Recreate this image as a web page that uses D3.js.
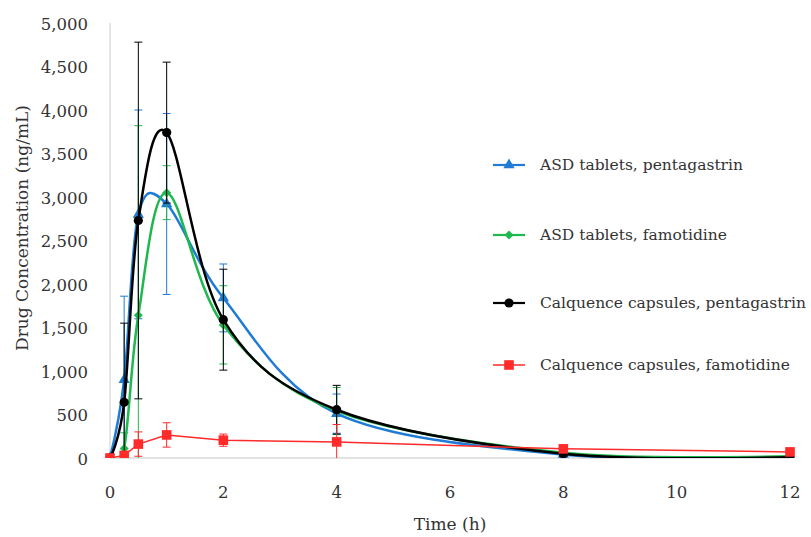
<!DOCTYPE html>
<html>
<head>
<meta charset="utf-8">
<script src="https://cdn.jsdelivr.net/npm/d3@7"></script>
<style>
  body { margin: 0; background: #fff; }
  svg { display: block; }
  .tick-label { font-family: "DejaVu Serif", serif; font-size: 16.5px; fill: #333; }
  .axis-title { font-family: "DejaVu Serif", serif; font-size: 17px; fill: #333; }
  .legend-label { font-family: "DejaVu Serif", serif; font-size: 15.5px; fill: #333; }
</style>
</head>
<body>
<div id="chart"></div>
<script>
// sampling times (h)
const times = [0, 0.25, 0.5, 1, 2, 4, 8, 12];

// mean concentrations (ng/mL)
const asdPenta = [0, 900, 2800, 2920, 1840, 510, 40, 5];
const asdFamo = [0, 110, 1640, 3050, 1530, 540, 60, 20];
const calqPenta = [0, 640, 2730, 3740, 1590, 555, 50, 10];
const calqFamo = [0, 30, 160, 265, 205, 185, 105, 70];

// standard deviations (error bars)
const asdPentaSd = [0, 960, 1200, 1040, 390, 225, 30, 5];
const asdFamoSd = [0, 180, 2180, 310, 450, 270, 30, 10];
const calqPentaSd = [0, 910, 2050, 810, 580, 280, 30, 10];
const calqFamoSd = [0, 30, 140, 140, 70, 200, 30, 20];

const seriesNames = [
  "ASD tablets, pentagastrin",
  "ASD tablets, famotidine",
  "Calquence capsules, pentagastrin",
  "Calquence capsules, famotidine"
];

const xTicks = [0, 2, 4, 6, 8, 10, 12];
const yTicks = [0, 500, 1000, 1500, 2000, 2500, 3000, 3500, 4000, 4500, 5000];

const config = {
  width: 811,
  height: 537,
  margin: { top: 23, right: 21, bottom: 79, left: 110 },
  capHalf: 4,
  legendX: 493,
  legendY: [165, 235, 303, 365]
};

const series = [
  { name: seriesNames[0], values: asdPenta, sd: asdPentaSd, color: "#1f7bd6", marker: "triangle", width: 2.5, smooth: true },
  { name: seriesNames[1], values: asdFamo, sd: asdFamoSd, color: "#1fb84f", marker: "diamond", width: 2.5, smooth: true },
  { name: seriesNames[2], values: calqPenta, sd: calqPentaSd, color: "#000000", marker: "circle", width: 2.5, smooth: true },
  { name: seriesNames[3], values: calqFamo, sd: calqFamoSd, color: "#ff2a2a", marker: "square", width: 1.5, smooth: false }
];

const innerW = config.width - config.margin.left - config.margin.right;
const innerH = config.height - config.margin.top - config.margin.bottom;

const svg = d3.select("#chart").append("svg")
  .attr("width", config.width)
  .attr("height", config.height);

const xScale = d3.scaleLinear().domain([0, 12]).range([0, innerW]);
const yScale = d3.scaleLinear().domain([0, 5000]).range([innerH, 0]);

const g = svg.append("g")
  .attr("transform", `translate(${config.margin.left},${config.margin.top})`);

svg.append("defs").append("clipPath").attr("id", "plot-clip")
  .append("rect").attr("x", -10).attr("y", -5).attr("width", innerW + 20).attr("height", innerH + 5);

// axes lines
g.append("path").attr("d", `M0,0V${innerH}`).attr("stroke", "#d9d9d9").attr("stroke-width", 1.3).attr("fill", "none");
g.append("path").attr("d", `M0,${innerH}H${innerW}`).attr("stroke", "#d9d9d9").attr("stroke-width", 1.3).attr("fill", "none");

// tick labels
g.selectAll("text.ytick").data(yTicks).join("text")
  .attr("class", "tick-label ytick")
  .attr("x", -22)
  .attr("y", d => yScale(d) + 1)
  .attr("dy", "0.35em")
  .attr("text-anchor", "end")
  .text(d => d3.format(",")(d));

g.selectAll("text.xtick").data(xTicks).join("text")
  .attr("class", "tick-label xtick")
  .attr("x", d => xScale(d))
  .attr("y", innerH + 34)
  .attr("dy", "0.35em")
  .attr("text-anchor", "middle")
  .text(d => d);

// axis titles
svg.append("text")
  .attr("class", "axis-title")
  .attr("transform", `translate(22,228) rotate(-90)`)
  .attr("text-anchor", "middle")
  .attr("dy", "0.35em")
  .text("Drug Concentration (ng/mL)");

svg.append("text")
  .attr("class", "axis-title")
  .attr("x", 450)
  .attr("y", 524)
  .attr("text-anchor", "middle")
  .attr("dy", "0.35em")
  .text("Time (h)");

function drawMarker(sel, type, color) {
  if (type === "triangle") {
    sel.append("path").attr("d", d3.symbol(d3.symbolTriangle, 55)()).attr("fill", color);
  } else if (type === "diamond") {
    sel.append("path").attr("d", "M0,-4.5L4.5,0L0,4.5L-4.5,0Z").attr("fill", color);
  } else if (type === "circle") {
    sel.append("circle").attr("r", 4.6).attr("fill", color);
  } else {
    sel.append("rect").attr("x", -4.8).attr("y", -4.8).attr("width", 9.6).attr("height", 9.6).attr("fill", color);
  }
}

const plot = g.append("g").attr("clip-path", "url(#plot-clip)");

series.forEach(s => {
  const pts = times.map((t, i) => ({ x: t, y: s.values[i], sd: s.sd[i] }));
  const sg = plot.append("g");

  // error bars
  const eb = sg.selectAll("g.err").data(pts.filter(p => p.sd > 0)).join("g");
  eb.append("path")
    .attr("d", p => {
      const x = xScale(p.x), y1 = yScale(p.y + p.sd), y0 = yScale(p.y - p.sd);
      return `M${x},${y1}V${y0}M${x - config.capHalf},${y1}H${x + config.capHalf}M${x - config.capHalf},${y0}H${x + config.capHalf}`;
    })
    .attr("stroke", s.color).attr("stroke-width", 1).attr("fill", "none");

  // line
  const line = d3.line()
    .x(p => xScale(p.x))
    .y(p => yScale(p.y))
    .curve(s.smooth ? d3.curveCardinal.tension(0) : d3.curveLinear);
  sg.append("path").datum(pts)
    .attr("d", line)
    .attr("stroke", s.color).attr("stroke-width", s.width).attr("fill", "none");

  // markers
  sg.selectAll("g.mk").data(pts).join("g")
    .attr("transform", p => `translate(${xScale(p.x)},${yScale(p.y)})`)
    .each(function () { drawMarker(d3.select(this), s.marker, s.color); });
});

// legend
const legend = svg.append("g");
series.forEach((s, i) => {
  const y = config.legendY[i];
  legend.append("path")
    .attr("d", `M${config.legendX},${y}H${config.legendX + 32}`)
    .attr("stroke", s.color).attr("stroke-width", s.width === 2.5 ? 2.2 : 1.5);
  const mk = legend.append("g").attr("transform", `translate(${config.legendX + 16},${y})`);
  drawMarker(mk, s.marker, s.color);
  legend.append("text")
    .attr("class", "legend-label")
    .attr("x", config.legendX + 47)
    .attr("y", y)
    .attr("dy", "0.35em")
    .text(s.name);
});
</script>
</body>
</html>
